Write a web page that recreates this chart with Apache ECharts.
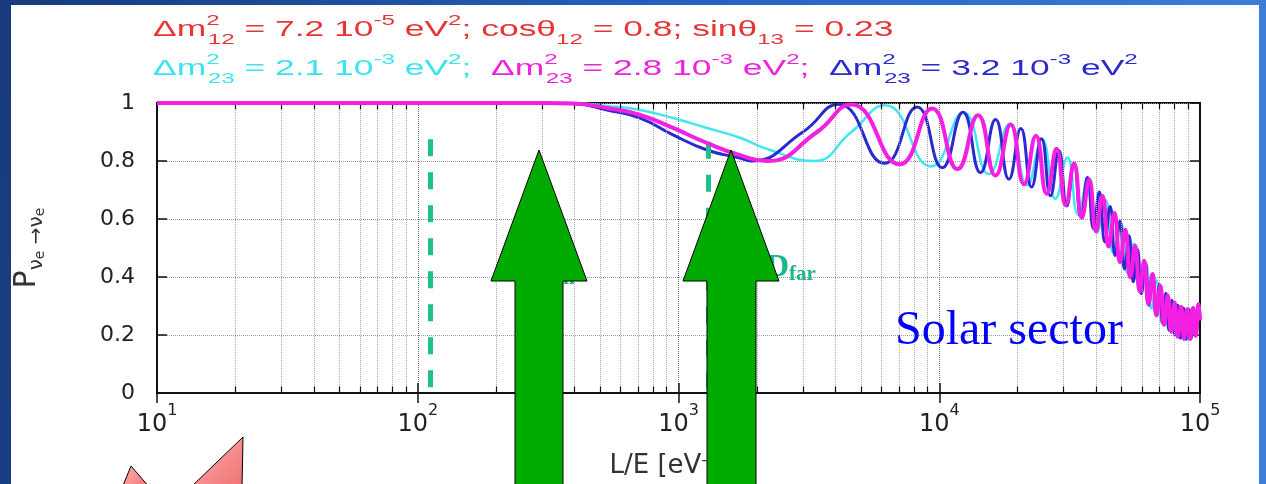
<!DOCTYPE html>
<html><head><meta charset="utf-8">
<script src="https://cdn.jsdelivr.net/npm/echarts@6/dist/echarts.min.js"></script>
<style>html,body{margin:0;padding:0;background:#fff}#c{width:1266px;height:484px}</style>
</head><body><div id="c"></div>
<script>
// ---------- data ----------
const xMin = 10, xMax = 100000;
const yTicks = [0, 0.2, 0.4, 0.6, 0.8, 1];
const minorGridX = [20,30,40,50,60,70,80,90,200,300,400,500,600,700,800,900,
  2000,3000,4000,5000,6000,7000,8000,9000,20000,30000,40000,50000,60000,70000,80000,90000];

// Δm²23 = 2.1e-3 (cyan)
const cyanX = [10,100,300,394,532,712,953,1286,1722,2244,3300,4600,6200,9300,12400,15500,18600,21700,24800,27900,31000,34100,37200,40300,43400,46500,49600,52700,55800,58900,62000,65100,68200,71300,74400,77500,80600,83700,86800,89900,93000,96100,99200,100000];
const cyanY = [1,1,1,0.999,0.99,0.976,0.948,0.914,0.88,0.838,0.80,0.90,0.992,0.781,0.967,0.755,0.928,0.716,0.875,0.670,0.812,0.615,0.741,0.553,0.665,0.483,0.589,0.414,0.515,0.349,0.447,0.291,0.388,0.244,0.341,0.211,0.309,0.190,0.292,0.184,0.292,0.196,0.308,0.27];

// Δm²23 = 3.2e-3 (blue)
const blueX = [10,100,300,394,532,712,953,1286,1722,1900,3000,4110,6165,8220,10275,12330,14385,16440,18495,20550,22605,24660,26715,28770,30825,32880,34935,36990,39045,41100,43155,45210,47265,49320,51375,53430,55485,57540,59595,61650,63705,65760,67815,69870,71925,73980,76035,78090,80145,82200,84255,86310,88365,90420,92475,94530,96585,98640,100000];
const blueY = [1,1,1,0.998,0.976,0.948,0.89,0.838,0.81,0.80,0.90,0.996,0.792,0.986,0.777,0.968,0.760,0.943,0.737,0.912,0.710,0.877,0.680,0.836,0.645,0.791,0.607,0.743,0.567,0.693,0.521,0.643,0.474,0.592,0.428,0.542,0.384,0.495,0.342,0.450,0.303,0.410,0.269,0.374,0.240,0.344,0.217,0.320,0.201,0.303,0.189,0.293,0.185,0.290,0.188,0.294,0.198,0.306,0.26];

// Δm²23 = 2.8e-3 (magenta)
const magX = [10,100,300,394,532,712,953,1286,1722,2185,3400,4600,7046,9394,11743,14091,16440,18788,21137,23485,25834,28182,30531,32879,35228,37576,39925,42273,44622,46970,49319,51667,54016,56364,58713,61061,63410,65758,68107,70455,72804,75152,77501,79849,82198,84546,86895,89243,91592,93940,96289,98637,100000];
const magY = [1,1,1,0.998,0.983,0.959,0.914,0.862,0.82,0.80,0.90,0.995,0.789,0.981,0.772,0.958,0.750,0.926,0.720,0.887,0.687,0.842,0.648,0.791,0.604,0.736,0.558,0.679,0.505,0.621,0.451,0.563,0.399,0.508,0.350,0.456,0.306,0.410,0.267,0.370,0.235,0.337,0.211,0.312,0.194,0.297,0.186,0.290,0.186,0.293,0.197,0.306,0.25];

// detector marks (dashed teal lines)
const detectorX = [112, 1300];
const detectorTopY = [0.875, 0.866];
const detectorBottomY = [0.015, 0.015];

// ---------- chart ----------
const chart = echarts.init(document.getElementById('c'), null, {renderer: 'canvas'});
const pair = (xs, ys) => xs.map((x, i) => [x, ys[i]]);

const SANS = '"Liberation Sans", Arial, sans-serif';
const AX = '"DejaVu Sans", sans-serif';
const TEAL = '#1eb48c';

const minorGridSegs = minorGridX.map(x => [{coord: [x, 0]}, {coord: [x, 1]}]);
const minorTickSegs = minorGridX.flatMap(x => [
  [{coord: [x, 0]}, {coord: [x, 0.022]}],
  [{coord: [x, 1]}, {coord: [x, 0.978]}]
]);
const detectorSegs = detectorX.map((x, i) => [{coord: [x, detectorTopY[i]]}, {coord: [x, detectorBottomY[i]]}]);

// rich text for the parameter lines
function richFor(colors) {
  const r = {};
  for (const [k, c] of Object.entries(colors)) {
    r['m' + k] = {fill: c, fontSize: 22, fontFamily: SANS, lineHeight: 34, verticalAlign: 'middle'};
    r['p' + k] = {fill: c, fontSize: 15, fontFamily: SANS, lineHeight: 16, verticalAlign: 'top'};
    r['q' + k] = {fill: c, fontSize: 15, fontFamily: SANS, lineHeight: 16, verticalAlign: 'top', width: 1};
    r['b' + k] = {fill: c, fontSize: 15, fontFamily: SANS, lineHeight: 16, verticalAlign: 'bottom'};
  }
  return r;
}
const line1 = '{mr|Δm}{qr|2}{br|12}{mr| = 7.2 10}{pr|-5}{mr| eV}{pr|2}{mr|; cosθ}{br|12}{mr| = 0.8; sinθ}{br|13}{mr| = 0.23}';
const grp = (k, v) => `{m${k}|Δm}{q${k}|2}{b${k}|23}{m${k}| = ${v} 10}{p${k}|-3}{m${k}| eV}{p${k}|2}`;
const line2 = grp('c', '2.1') + '{mc|;  }' + grp('g', '2.8') + '{mg|;  }' + grp('u', '3.2');

const arrowStyle = {fill: '#00aa00', stroke: '#000', lineWidth: 1};
const pinkStyle = {
  fill: {type: 'linear', x: 0, y: 0, x2: 1, y2: 1, colorStops: [{offset: 0, color: '#ffb0b0'}, {offset: 1, color: '#f07070'}]},
  stroke: '#000', lineWidth: 1
};

const option = {
  animation: false,
  backgroundColor: {type: 'linear', x: 0, y: 0, x2: 1, y2: 0.3,
    colorStops: [{offset: 0, color: '#173a7c'}, {offset: 0.5, color: '#2360bd'}, {offset: 1, color: '#3c7ed8'}]},
  graphic: [
    {type: 'rect', z: -10, silent: true, shape: {x: 11, y: 5, width: 1248, height: 480}, style: {fill: '#ffffff'}},
    {type: 'text', z: 50, x: 153, y: 30, scaleX: 1.61, style: {text: line1, rich: richFor({r: '#e83434'}), verticalAlign: 'middle'}},
    {type: 'text', z: 50, x: 153, y: 69, scaleX: 1.61, style: {text: line2, rich: richFor({c: '#3ae4ee', g: '#ee22dd', u: '#2a2ad0'}), verticalAlign: 'middle'}},
    {type: 'text', z: 50, x: 895, y: 331, style: {text: 'Solar sector', fill: '#0000ff', fontSize: 48, fontFamily: '"Liberation Serif", "Times New Roman", serif', verticalAlign: 'middle'}},
    {type: 'text', z: 50, x: 766, y: 268, style: {text: '{d|D}{f|far}', verticalAlign: 'middle', rich: {
      d: {fill: TEAL, fontSize: 32, fontWeight: 'bold', fontFamily: '"Liberation Serif", serif', lineHeight: 34, verticalAlign: 'middle'},
      f: {fill: TEAL, fontSize: 21, fontWeight: 'bold', fontFamily: '"Liberation Serif", serif', lineHeight: 20, verticalAlign: 'bottom'}}}},
    {type: 'text', z: 50, x: 540, y: 272, style: {text: '{d|D}{f|n}', verticalAlign: 'middle', rich: {
      d: {fill: TEAL, fontSize: 32, fontWeight: 'bold', fontFamily: '"Liberation Serif", serif', lineHeight: 34, verticalAlign: 'middle'},
      f: {fill: TEAL, fontSize: 21, fontWeight: 'bold', fontFamily: '"Liberation Serif", serif', lineHeight: 20, verticalAlign: 'bottom'}}}},
    {type: 'polygon', z: 100, shape: {points: [[539,150],[587,281],[563,281],[563,490],[515,490],[515,281],[491,281]]}, style: arrowStyle},
    {type: 'polygon', z: 100, shape: {points: [[731,150],[779,281],[756,281],[756,490],[707,490],[707,281],[683,281]]}, style: arrowStyle},
    {type: 'polygon', z: 100, shape: {points: [[131,466],[150,488],[122,488]]}, style: pinkStyle},
    {type: 'polygon', z: 100, shape: {points: [[243,437],[242,488],[190,488]]}, style: pinkStyle}
  ],
  grid: {left: 157, right: 66, top: 103, bottom: 90, show: true, borderColor: '#111', borderWidth: 2, backgroundColor: '#fff'},
  xAxis: [{
    type: 'log', logBase: 10, min: xMin, max: xMax, position: 'bottom',
    axisLine: {show: true, lineStyle: {color: '#111', width: 2}},
    axisTick: {show: true, inside: true, length: 10, lineStyle: {color: '#111', width: 1.5}},
    splitLine: {show: true, lineStyle: {type: 'dotted', color: '#777', width: 1}},
    axisLabel: {
      margin: 10,
      formatter: v => '{b|10}{s|' + Math.round(Math.log10(v)) + '}',
      rich: {
        b: {fontSize: 24, fontFamily: AX, color: '#222', lineHeight: 34, verticalAlign: 'bottom'},
        s: {fontSize: 16, fontFamily: AX, color: '#222', lineHeight: 18, verticalAlign: 'top'}
      }
    },
    name: 'L/E [eV{s|-2}]', nameLocation: 'middle', nameGap: 60,
    nameTextStyle: {fontSize: 26, fontFamily: AX, color: '#333', padding: [0, 20, 0, 0],
      rich: {s: {fontSize: 16, fontFamily: AX, color: '#333', verticalAlign: 'top', lineHeight: 14}}}
  }, {
    type: 'log', logBase: 10, min: xMin, max: xMax, position: 'top',
    axisLine: {show: true, lineStyle: {color: '#111', width: 2}},
    axisTick: {show: true, inside: true, length: 10, lineStyle: {color: '#111', width: 1.5}},
    axisLabel: {show: false}, splitLine: {show: false}
  }],
  yAxis: [{
    type: 'value', min: 0, max: 1, interval: 0.2, position: 'left',
    axisLine: {show: true, lineStyle: {color: '#111', width: 2}},
    axisTick: {show: true, inside: true, length: 10, lineStyle: {color: '#111', width: 1.5}},
    splitLine: {show: true, lineStyle: {type: 'dotted', color: '#999', width: 1}},
    axisLabel: {margin: 22, fontSize: 22, fontFamily: AX, color: '#222'},
    name: '{p|P}{s|ν}{t|e}{s| →ν}{t|e}', nameLocation: 'middle', nameGap: 110,
    nameTextStyle: {rich: {
      p: {fontSize: 30, fontFamily: AX, color: '#333', lineHeight: 40, verticalAlign: 'middle'},
      s: {fontSize: 20, fontFamily: AX, color: '#333', lineHeight: 26, verticalAlign: 'bottom'},
      t: {fontSize: 14, fontFamily: AX, color: '#333', lineHeight: 14, verticalAlign: 'bottom'}
    }}
  }, {
    type: 'value', min: 0, max: 1, interval: 0.2, position: 'right',
    axisLine: {show: true, lineStyle: {color: '#111', width: 2}},
    axisTick: {show: true, inside: true, length: 10, lineStyle: {color: '#111', width: 1.5}},
    axisLabel: {show: false}, splitLine: {show: false}
  }],
  series: [
    {type: 'line', name: 'guides', data: [], z: 1, silent: true,
      markLine: {silent: true, symbol: ['none', 'none'], label: {show: false}, animation: false,
        lineStyle: {type: 'dotted', color: '#aaa', width: 1},
        data: minorGridSegs}},
    {type: 'line', name: 'minor ticks', data: [], z: 1, silent: true,
      markLine: {silent: true, symbol: ['none', 'none'], label: {show: false}, animation: false,
        lineStyle: {type: 'solid', color: '#111', width: 1.2},
        data: minorTickSegs}},
    {type: 'line', name: 'cyan', data: pair(cyanX, cyanY), smooth: true, showSymbol: false, z: 3,
      lineStyle: {color: '#40e6f0', width: 2.5}},
    {type: 'line', name: 'blue', data: pair(blueX, blueY), smooth: true, showSymbol: false, z: 4,
      lineStyle: {color: '#2a2ad2', width: 3}},
    {type: 'line', name: 'magenta', data: pair(magX, magY), smooth: true, showSymbol: false, z: 5,
      lineStyle: {color: '#f41fe2', width: 4}},
    {type: 'line', name: 'detectors', data: [], z: 6, silent: true,
      markLine: {silent: true, symbol: ['none', 'none'], label: {show: false}, animation: false,
        lineStyle: {type: [17, 16], color: '#1ec08e', width: 5},
        data: detectorSegs}}
  ]
};
chart.setOption(option);
</script>
</body></html>
